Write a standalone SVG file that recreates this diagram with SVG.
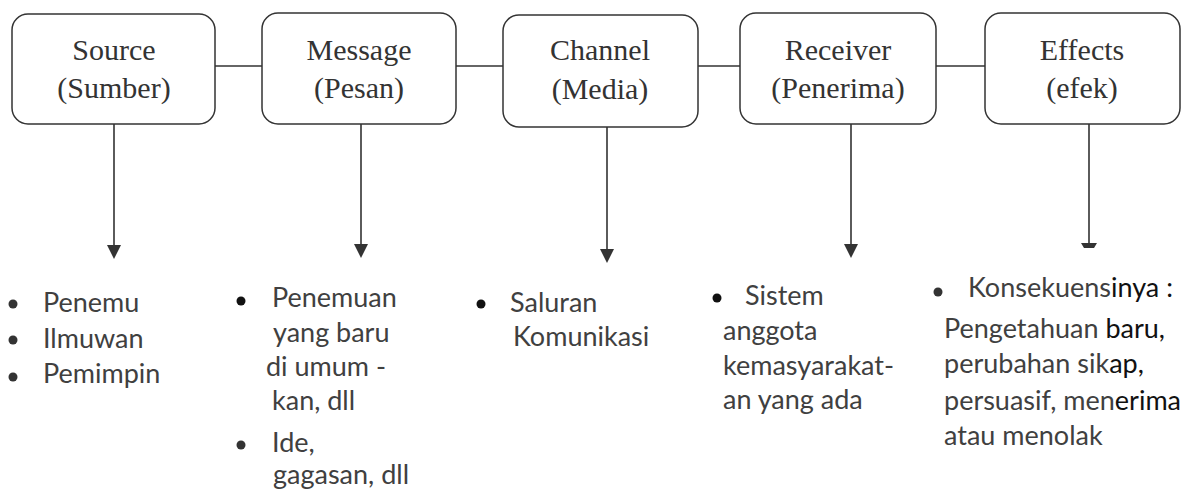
<svg xmlns="http://www.w3.org/2000/svg" width="1197" height="489" viewBox="0 0 1197 489">
<defs>
<style>
.box{fill:#fff;stroke:#333;stroke-width:1.5}
.bt{font-family:"Liberation Serif","Times New Roman",serif;font-size:30px;fill:#333;text-anchor:middle}
.ln{stroke:#333;stroke-width:1.6;fill:none}
.tx{font-family:Lato,"Open Sans",sans-serif;font-size:27px;fill:#404040}
.dk{fill:#111}
.bl{fill:#333}
.blk{fill:#111}
</style>
</defs>
<rect width="1197" height="489" fill="#fff"/>
<g id="connectors">
<line class="ln" x1="215" y1="66" x2="262" y2="66"/>
<line class="ln" x1="456" y1="66" x2="503" y2="66"/>
<line class="ln" x1="698" y1="66" x2="740" y2="66"/>
<line class="ln" x1="936" y1="66" x2="985" y2="66"/>
<line class="ln" x1="114" y1="124" x2="114" y2="245"/>
<path d="M107,245 L121,245 L114,259 z" fill="#333"/>
<line class="ln" x1="361" y1="124" x2="361" y2="244"/>
<path d="M354,244 L368,244 L361,258 z" fill="#333"/>
<line class="ln" x1="607" y1="127" x2="607" y2="249"/>
<path d="M600,249 L614,249 L607,263 z" fill="#333"/>
<line class="ln" x1="851" y1="124" x2="851" y2="244"/>
<path d="M844,244 L858,244 L851,258 z" fill="#333"/>
<line class="ln" x1="1089" y1="124" x2="1089" y2="244"/>
<path d="M1081,243 L1097,243 L1094,248 L1084,248 z" fill="#333"/>
</g>
<g id="source">
<rect class="box" x="12" y="14" width="203" height="110" rx="16"/>
<text class="bt" x="114" y="60">Source</text>
<text class="bt" x="114" y="98">(Sumber)</text>
</g>
<g id="message">
<rect class="box" x="262" y="13" width="194" height="111" rx="16"/>
<text class="bt" x="359" y="60">Message</text>
<text class="bt" x="359" y="98">(Pesan)</text>
</g>
<g id="channel">
<rect class="box" x="503" y="15" width="195" height="112" rx="16"/>
<text class="bt" x="600" y="60">Channel</text>
<text class="bt" x="600" y="99">(Media)</text>
</g>
<g id="receiver">
<rect class="box" x="740" y="13" width="196" height="111" rx="16"/>
<text class="bt" x="838" y="60">Receiver</text>
<text class="bt" x="838" y="98">(Penerima)</text>
</g>
<g id="effects">
<rect class="box" x="985" y="13" width="195" height="111" rx="16"/>
<text class="bt" x="1082" y="60">Effects</text>
<text class="bt" x="1082" y="98">(efek)</text>
</g>
<g id="list-source">
<circle class="bl" cx="13" cy="304" r="4.5"/>
<circle class="bl" cx="13" cy="340" r="4.5"/>
<circle class="bl" cx="13" cy="377" r="4.5"/>
<text class="tx" x="43" y="312">Penemu</text>
<text class="tx" x="43" y="348">Ilmuwan</text>
<text class="tx" x="43" y="383">Pemimpin</text>
</g>
<g id="list-message">
<circle class="blk" cx="241" cy="301" r="4.5"/>
<text class="tx" x="272" y="307">Penemuan</text>
<text class="tx" x="273" y="342">yang baru</text>
<text class="tx" x="266" y="376">di umum -</text>
<text class="tx" x="272" y="410">kan, dll</text>
<circle class="bl" cx="241" cy="445" r="4.5"/>
<text class="tx" x="272" y="452">Ide,</text>
<text class="tx" x="273" y="484">gagasan, dll</text>
</g>
<g id="list-channel">
<circle class="blk" cx="481" cy="304" r="4.5"/>
<text class="tx" x="510" y="312">Saluran</text>
<text class="tx" x="513" y="346">Komunikasi</text>
</g>
<g id="list-receiver">
<circle class="blk" cx="717" cy="298" r="4.5"/>
<text class="tx" x="745" y="305">Sistem</text>
<text class="tx" x="723" y="340">anggota</text>
<text class="tx" x="723" y="375">kemasyarakat-</text>
<text class="tx" x="723" y="409">an yang ada</text>
</g>
<g id="list-effects">
<circle class="bl" cx="938" cy="292" r="4.5"/>
<text class="tx" x="968" y="297">Konsekuens<tspan class="dk">inya :</tspan></text>
<text class="tx" x="944" y="338">Pengetahuan <tspan class="dk">baru,</tspan></text>
<text class="tx" x="944" y="373">perubahan sik<tspan class="dk">ap,</tspan></text>
<text class="tx" x="944" y="410">persuasif, men<tspan class="dk">erima</tspan></text>
<text class="tx" x="944" y="445">atau menolak</text>
</g>
</svg>
